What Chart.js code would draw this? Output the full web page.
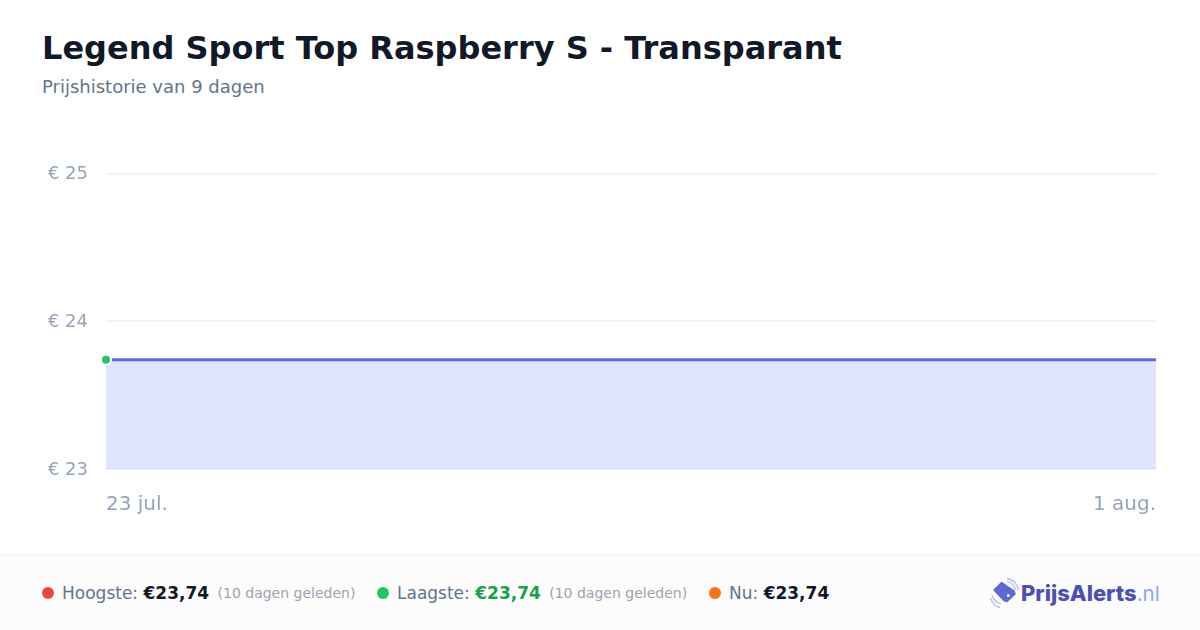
<!DOCTYPE html>
<html lang="nl">
<head>
<meta charset="utf-8">
<title>Legend Sport Top Raspberry S - Transparant</title>
<script src="https://cdn.jsdelivr.net/npm/chart.js@4"></script>
<style>
  html, body { margin: 0; padding: 0; background: #fff; }
  body { width: 1200px; height: 630px; position: relative; overflow: hidden; font-family: "DejaVu Sans", sans-serif; }
  h1 { position: absolute; left: 42px; top: 28px; margin: 0; font-size: 32px; line-height: 40px; font-weight: 700; color: #111827; white-space: nowrap; }
  .sub { position: absolute; left: 42px; top: 76px; font-size: 18px; line-height: 22px; color: #64748b; white-space: nowrap; }
  #chartWrap { position: absolute; left: 0; top: 145px; width: 1200px; height: 388px; }
  .footer { position: absolute; left: 0; top: 554px; width: 1200px; height: 76px; background: #fcfcfc; border-top: 1px solid #f1f2f4; box-sizing: border-box; }
  .stat { position: absolute; top: 27px; font-size: 17px; line-height: 22px; color: #64748b; white-space: nowrap; }
  .stat b { color: #111827; }
  .stat small { position: relative; top: -1px; font-size: 14px; color: #9ca3af; margin-left: 3px; }
  .dot { position: absolute; top: 32px; width: 12px; height: 12px; border-radius: 50%; }
  .logo { position: absolute; left: 990px; top: 23px; }
  .logoText { position: absolute; left: 1021px; top: 24px; font-family: Inter, sans-serif; font-size: 22px; line-height: 28px; font-weight: 800; color: #4a50b5; white-space: nowrap; }
  .logoText span { font-size: 20.5px; font-weight: 400; color: #8ea6f4; }
</style>
</head>
<body>
<h1>Legend Sport Top Raspberry S - Transparant</h1>
<div class="sub">Prijshistorie van 9 dagen</div>
<div id="chartWrap"><canvas id="priceChart"></canvas></div>
<div class="footer">
  <span class="dot" style="left:42px;background:#ef4444"></span>
  <span class="stat" style="left:62px">Hoogste: <b>€23,74</b> <small>(10 dagen geleden)</small></span>
  <span class="dot" style="left:377px;background:#22c55e"></span>
  <span class="stat" style="left:397px">Laagste: <b style="color:#16a34a">€23,74</b> <small>(10 dagen geleden)</small></span>
  <span class="dot" style="left:709px;background:#f97316"></span>
  <span class="stat" style="left:729px">Nu: <b>€23,74</b></span>
  <svg class="logo" width="30" height="32" viewBox="0 0 30 32">
    <path d="M11.7 4.5 L24 13 L25 16 L17 23.5 L14 22.5 L4 12 Z" fill="#5c68d4" stroke="#5c68d4" stroke-width="1.5" stroke-linejoin="round"/>
    <circle cx="18.3" cy="17.7" r="1.4" fill="#fff"/>
    <path d="M17 3 Q24 5 25.5 12 M17 0.5 Q26.5 2 28.5 12" fill="none" stroke="#a9bcf7" stroke-width="1.3"/>
    <path d="M2 17 Q4 24 11 26 M0.5 20 Q3 28 10 29.5" fill="none" stroke="#a9bcf7" stroke-width="1.3"/>
  </svg>
  <div class="logoText">PrijsAlerts<span>.nl</span></div>
</div>
<script>
// Prijsgegevens uit de grafiek
const dateLabels = ['23 jul.', '1 aug.'];
const prices = [23.74, 23.74];
const yMin = 23;
const yMax = 25;
const yStep = 1;
const pointColors = ['#22c55e', 'rgba(0,0,0,0)'];
const pointBorders = ['#ffffff', 'rgba(0,0,0,0)'];

const canvas = document.getElementById('priceChart');

new Chart(canvas, {
    type: 'line',
    data: {
        labels: dateLabels,
        datasets: [{
            data: prices,
            borderColor: '#6366f1',
            borderWidth: 3,
            backgroundColor: 'rgba(92,113,250,0.19)',
            fill: 'start',
            tension: 0,
            clip: false,
            pointRadius: 5,
            pointHoverRadius: 5,
            pointBorderWidth: 2,
            pointBorderColor: pointBorders,
            pointBackgroundColor: pointColors
        }]
    },
    options: {
        responsive: true,
        maintainAspectRatio: false,
        animation: false,
        layout: { padding: { left: 0, right: 44, top: 0, bottom: 0 } },
        plugins: { legend: { display: false }, tooltip: { enabled: false } },
        scales: {
            x: {
                offset: false,
                border: { display: false },
                grid: { display: false },
                ticks: {
                    align: 'inner',
                    autoSkip: false,
                    maxRotation: 0,
                    padding: 16,
                    color: '#94a3b8',
                    font: { family: '"DejaVu Sans"', size: 20 }
                }
            },
            y: {
                min: yMin,
                max: yMax,
                afterFit: scale => {
                    scale.width = 106;
                },
                border: { display: false },
                grid: { color: '#f1f3f6', lineWidth: 2, drawTicks: false },
                ticks: {
                    stepSize: yStep,
                    padding: 18,
                    labelOffset: 1,
                    color: '#94a3b8',
                    font: { family: '"DejaVu Sans"', size: 18 },
                    callback: value => '€ ' + value
                }
            }
        }
    }
});
</script>
</body>
</html>
